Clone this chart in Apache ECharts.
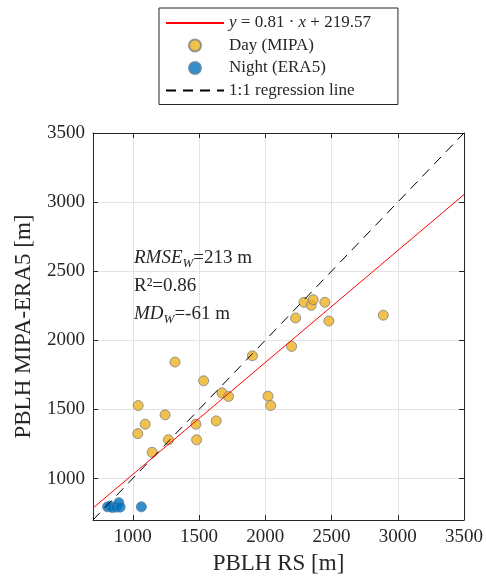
<!DOCTYPE html>
<html>
<head>
<meta charset="utf-8">
<script src="https://cdn.jsdelivr.net/npm/echarts@6/dist/echarts.min.js"></script>
<style>html,body{margin:0;padding:0;background:#fff}#c{width:486px;height:581px}</style>
</head>
<body>
<div id="c"></div>
<script>
// Data
const dayX = [1535,1673,1723,2021,2041,1041,1244,1094,1477,1630,1038,1269,1482,1146,1319,1903,2199,2229,2292,2347,2362,2450,2480,2891];
const dayY = [1707,1620,1594,1596,1528,1528,1461,1393,1393,1417,1325,1280,1280,1190,1843,1888,1956,2162,2275,2253,2294,2275,2140,2182];
const nightX = [810,828,845,875,895,905,1065];
const nightY = [795,800,790,793,825,793,795];
const slope = 0.81, intercept = 219.57;
const axisMin = 700, axisMax = 3500;
const tickLabels = ['1000','1500','2000','2500','3000','3500'];

const FONT = 'Liberation Serif';
const TXT = '#262626';
const regLine = [[axisMin, slope*axisMin+intercept],[axisMax, slope*axisMax+intercept]];
const oneLine = [[axisMin, axisMin],[axisMax, axisMax]];
const day = dayX.map((x,i)=>[x, dayY[i]]);
const night = nightX.map((x,i)=>[x, nightY[i]]);

const chart = echarts.init(document.getElementById('c'), null, {renderer:'canvas'});
const baseAxis = {
  type:'value', min:axisMin, max:axisMax, splitNumber:5,
  axisLine:{show:true, onZero:false, lineStyle:{color:TXT, width:1}},
  axisTick:{show:true, inside:true, length:5, lineStyle:{color:TXT}},
  splitLine:{show:true, lineStyle:{color:'#e3e3e3', width:1}},
  axisLabel:{show:true, showMinLabel:false, color:TXT, fontFamily:FONT, fontSize:19, margin:8,
    formatter:(v)=> tickLabels.indexOf(String(v))>=0 ? String(v) : ''}
};
const mirror = (pos)=>({
  type:'value', min:axisMin, max:axisMax, splitNumber:5, position:pos,
  axisLine:{show:true, onZero:false, lineStyle:{color:TXT, width:1}},
  axisTick:{show:true, inside:true, length:5, lineStyle:{color:TXT}},
  splitLine:{show:false}, axisLabel:{show:false}
});
chart.setOption({
  animation:false,
  grid:{left:93, right:21, top:133, bottom:61, containLabel:false},
  xAxis:[Object.assign({}, baseAxis, {position:'bottom', name:'PBLH RS [m]', nameLocation:'middle', nameGap:32,
    nameTextStyle:{color:TXT, fontFamily:FONT, fontSize:23}}), mirror('top')],
  yAxis:[Object.assign({}, baseAxis, {position:'left', name:'PBLH MIPA-ERA5 [m]', nameLocation:'middle', nameGap:58,
    nameTextStyle:{color:TXT, fontFamily:FONT, fontSize:23}}), mirror('right')],
  legend:{
    orient:'vertical', left:159, top:8,
    data:[
      {name:'reg', itemStyle:{opacity:0}},
      {name:'Day (MIPA)'},
      {name:'Night (ERA5)'},
      {name:'1:1 regression line', itemStyle:{opacity:0}}
    ],
    itemWidth:58, itemHeight:12, itemGap:4.5,
    padding:[6,27,5,6],
    borderColor:'#262626', borderWidth:1, backgroundColor:'#fff',
    textStyle:{color:TXT, fontFamily:FONT, fontSize:17, lineHeight:18,
      rich:{i:{fontFamily:FONT, fontStyle:'italic', fontSize:17, color:TXT}, n:{fontFamily:FONT, fontSize:17, color:TXT}}},
    formatter:(name)=> name==='reg' ? '{i|y} {n|= 0.81 · }{i|x}{n| + 219.57}' : name,
    selectedMode:false
  },
  graphic:[{
    type:'text', left:134, top:244, z:10,
    style:{
      text:'{i|RMSE}{s|W}{n|=213 m}\n{n|R²=0.86}\n{i|MD}{s|W}{n|=-61 m}',
      fill:TXT, font:'19px '+FONT, lineHeight:28,
      rich:{
        i:{fontFamily:FONT, fontStyle:'italic', fontSize:19, fill:TXT, lineHeight:28},
        n:{fontFamily:FONT, fontSize:19, fill:TXT, lineHeight:28},
        s:{fontFamily:FONT, fontStyle:'italic', fontSize:13, fill:TXT, padding:[11,0,0,0], lineHeight:28}
      }
    }
  }],
  series:[
    {name:'Day (MIPA)', type:'scatter', data:day, symbolSize:10, z:2,
      itemStyle:{color:'#EDB120', borderColor:'#808080', borderWidth:1}},
    {name:'Night (ERA5)', type:'scatter', data:night, symbolSize:10, z:2,
      itemStyle:{color:'#0072BD', borderColor:'#5a7fa0', borderWidth:1}},
    {name:'1:1 regression line', type:'line', data:oneLine, symbol:'none', z:3,
      lineStyle:{color:'#000', width:1, type:[10,7]}, itemStyle:{color:'#000'}},
    {name:'reg', type:'line', data:regLine, symbol:'none', z:4,
      lineStyle:{color:'#ff0000', width:1}, itemStyle:{color:'#ff0000'}}
  ]
});
</script>
</body>
</html>
